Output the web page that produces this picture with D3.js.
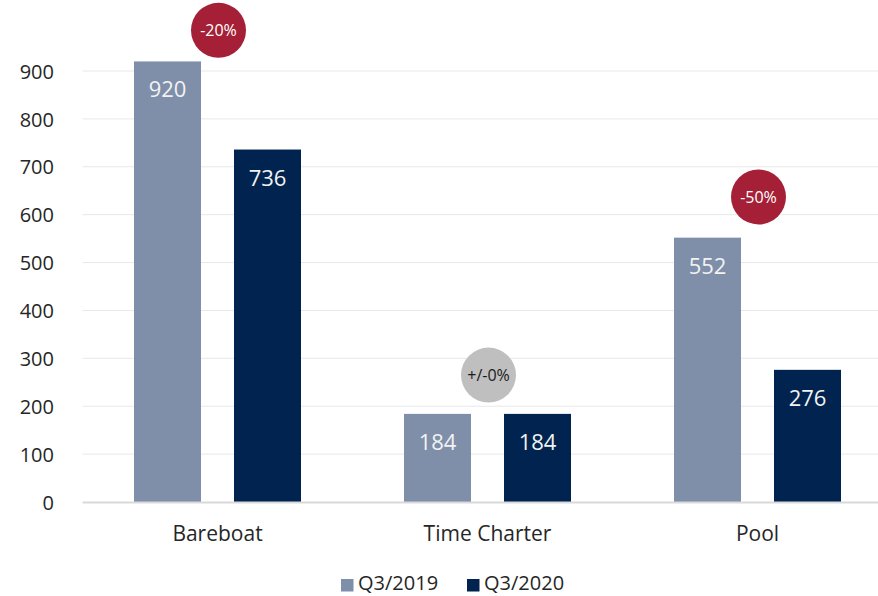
<!DOCTYPE html>
<html><head><meta charset="utf-8">
<script src="https://cdn.jsdelivr.net/npm/d3@7"></script>
<style>body{margin:0;background:#fff;}svg{display:block;font-family:"Open Sans",sans-serif;}</style>
</head><body><svg id="c" width="878" height="596"></svg>
<script>
const categories = ["Bareboat", "Time Charter", "Pool"];
const seriesNames = ["Q3/2019", "Q3/2020"];
const q2019 = [920, 184, 552];
const q2020 = [736, 184, 276];
const changeLabels = ["-20%", "+/-0%", "-50%"];
const changeKinds = ["down", "flat", "down"];
const badgeValues = [985, 265, 637];
const yTicks = [0, 100, 200, 300, 400, 500, 600, 700, 800, 900];

const colors = {"Q3/2019": "#7f8fa9", "Q3/2020": "#00234f"};
const badgeFill = {down: "#a51f37", flat: "#bfbfbf"};
const badgeText = {down: "#ffffff", flat: "#1a1a1a"};

const svg = d3.select("#c");
const plot = {left: 82.5, right: 892.5, top: 0, bottom: 502};

const y = d3.scaleLinear().domain([0, 900]).range([plot.bottom, plot.bottom - 431]);
const x0 = d3.scaleBand().domain(categories).range([plot.left, plot.right]).padding(0);
const x1 = d3.scaleBand().domain(seriesNames).range([0, x0.bandwidth()]).paddingInner(0.33).paddingOuter(0.515);

// gridlines
svg.append("g").selectAll("line").data(yTicks.filter(d => d > 0)).join("line")
  .attr("x1", plot.left).attr("x2", 878)
  .attr("y1", d => y(d)).attr("y2", d => y(d))
  .attr("stroke", "#e8e8e8").attr("stroke-width", 1);

// y axis labels
const yAxis = d3.axisLeft(y).tickValues(yTicks).tickSize(0).tickPadding(0);
const yg = svg.append("g").attr("transform", "translate(54,0)").call(yAxis);
yg.select(".domain").remove();
yg.selectAll("text").attr("font-size", 20).attr("fill", "#262626").attr("font-family", "Open Sans").attr("dy", "0.36em");

const data = categories.map((c, i) => ({cat: c, vals: [
  {s: "Q3/2019", v: q2019[i]}, {s: "Q3/2020", v: q2020[i]}]}));

const groups = svg.append("g").selectAll("g").data(data).join("g")
  .attr("transform", d => `translate(${x0(d.cat)},0)`);

groups.selectAll("rect").data(d => d.vals).join("rect")
  .attr("x", d => x1(d.s)).attr("width", x1.bandwidth())
  .attr("y", d => y(d.v)).attr("height", d => y(0) - y(d.v))
  .attr("fill", d => colors[d.s]);

groups.selectAll("text.val").data(d => d.vals).join("text").attr("class", "val")
  .attr("x", d => x1(d.s) + x1.bandwidth() / 2)
  .attr("y", d => y(d.v) + 36)
  .attr("text-anchor", "middle").attr("font-size", 22).attr("fill", "#f2f2f2")
  .text(d => d.v);

// x axis line
svg.append("line").attr("x1", plot.left).attr("x2", 878)
  .attr("y1", y(0) + 0.5).attr("y2", y(0) + 0.5).attr("stroke", "#d9d9d9").attr("stroke-width", 2);

// category labels
const xAxis = d3.axisBottom(x0).tickSize(0).tickPadding(0);
const xg = svg.append("g").attr("transform", `translate(0,${y(0)})`).call(xAxis);
xg.select(".domain").remove();
xg.selectAll("text").attr("font-size", 21).attr("fill", "#262626").attr("font-family", "Open Sans")
  .attr("dy", 0).attr("y", 39);

// badges
const badges = svg.append("g").selectAll("g").data(categories).join("g")
  .attr("transform", (c, i) => `translate(${x0(c) + x0.bandwidth() / 2 + 1},${y(badgeValues[i])})`);
badges.append("circle").attr("r", 27.5).attr("fill", (c, i) => badgeFill[changeKinds[i]]);
badges.append("text").attr("text-anchor", "middle").attr("dy", "0.36em")
  .attr("font-size", 16).attr("fill", (c, i) => badgeText[changeKinds[i]])
  .text((c, i) => changeLabels[i]);

// legend
const legend = svg.append("g").attr("transform", "translate(341,0)");
const legX = [0, 126];
seriesNames.forEach((s, i) => {
  const g = legend.append("g").attr("transform", `translate(${legX[i]},0)`);
  g.append("rect").attr("x", 0).attr("y", 579).attr("width", 12.5).attr("height", 12.5).attr("fill", colors[s]);
  g.append("text").attr("x", 17).attr("y", 590).attr("font-size", 20).attr("fill", "#262626").text(s);
});
</script></body></html>
